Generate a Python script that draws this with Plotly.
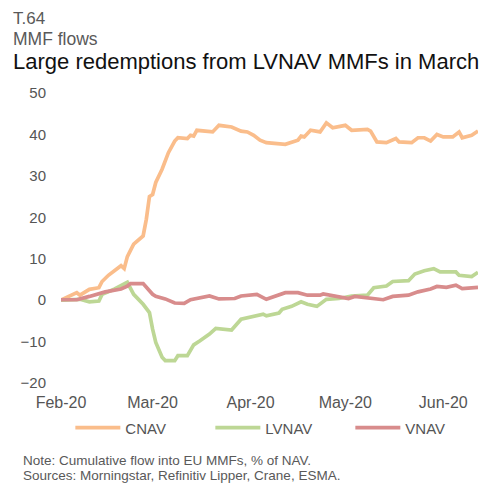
import plotly.graph_objects as go
import pandas as pd

# ---- data (cumulative flow, % of NAV) ----
cnav_days = [0, 5, 6, 9, 12, 13, 15, 17, 19, 20, 21, 22, 23, 26, 27, 28, 29, 30, 32, 34, 36, 37,
             40, 41, 42, 43, 47, 48, 50, 54, 57, 59, 61, 63, 65, 70, 71, 75, 76, 77, 79, 82, 84,
             86, 90, 92, 97, 98, 100, 103, 106, 107, 111, 113, 115, 117, 119, 121, 124, 126, 127, 130, 132]
cnav_vals = [0.0, 1.8, 1.2, 2.6, 3.0, 4.5, 6.0, 7.1, 8.3, 7.6, 10.5, 12.0, 13.5, 15.5, 19.5, 25.0,
             25.5, 28.4, 31.6, 35.6, 38.4, 39.2, 39.0, 39.8, 39.6, 41.0, 40.8, 40.6, 42.2, 41.8,
             40.8, 40.6, 39.8, 38.6, 38.0, 37.8, 37.6, 38.6, 39.6, 39.4, 41.0, 40.6, 42.8, 41.6,
             42.2, 41.0, 41.2, 40.8, 38.2, 38.0, 39.0, 38.2, 38.0, 39.2, 39.2, 38.4, 40.0, 39.4,
             39.4, 40.6, 39.2, 39.8, 40.8]

lvnav_days = [0, 6, 9, 12, 13, 17, 21, 22, 23, 26, 28, 29, 30, 32, 33, 36, 37, 40, 42, 44, 47, 49,
              54, 57, 61, 64, 65, 69, 70, 73, 76, 78, 81, 84, 88, 92, 97, 99, 103, 105, 110, 112,
              115, 118, 120, 125, 126, 130, 132]
lvnav_vals = [0.0, 0.2, -0.4, -0.2, 1.4, 2.7, 4.3, 3.0, 1.4, -1.0, -3.0, -7.0, -10.2, -13.8, -14.6,
              -14.6, -13.4, -13.4, -10.8, -9.8, -8.2, -6.8, -7.2, -4.6, -3.9, -3.4, -3.8, -3.1,
              -2.2, -1.5, -0.4, -1.0, -1.5, 0.2, 0.4, 1.0, 1.2, 3.0, 3.4, 4.5, 4.7, 6.3, 7.1, 7.6,
              6.8, 6.8, 6.0, 5.7, 6.7]

vnav_days = [0, 5, 9, 14, 19, 21, 22, 26, 29, 30, 33, 36, 39, 41, 47, 50, 55, 57, 62, 65, 71, 75,
             78, 82, 83, 87, 91, 93, 98, 102, 105, 110, 113, 117, 119, 122, 125, 127, 132]
vnav_vals = [0.1, 0.1, 0.9, 2.0, 2.7, 3.4, 4.0, 4.0, 1.4, 0.9, 0.3, -0.7, -0.8, 0.1, 1.0, 0.3, 0.4,
             1.0, 1.4, 0.2, 1.8, 1.8, 1.2, 1.2, 1.5, 0.9, 0.4, 0.9, 0.4, 0.1, 0.9, 1.2, 2.0, 2.7,
             3.3, 3.1, 3.6, 2.8, 3.1]

start_date = "2020-02-01"
tick_dates = ["2020-02-01", "2020-03-01", "2020-04-01", "2020-05-01", "2020-06-01"]
tick_labels = ["Feb-20", "Mar-20", "Apr-20", "May-20", "Jun-20"]
y_ticks = [-20, -10, 0, 10, 20, 30, 40, 50]

series = [
    ("CNAV", cnav_days, cnav_vals, "#FABD8B"),
    ("LVNAV", lvnav_days, lvnav_vals, "#BDD795"),
    ("VNAV", vnav_days, vnav_vals, "#D88C8C"),
]

base = pd.Timestamp(start_date)
fig = go.Figure()
for name, days, vals, col in series:
    dates = [base + pd.Timedelta(days=d) for d in days]
    fig.add_trace(go.Scatter(x=dates, y=vals, name=name, mode="lines",
                             line=dict(color=col, width=3.7)))

FONT = "Liberation Sans, Arial, sans-serif"
# page body has an 8px margin, so the figure is sized/offset to compensate
fig.update_layout(
    width=485, height=475,
    margin=dict(l=53, r=15, t=85, b=100, autoexpand=False),
    paper_bgcolor="white", plot_bgcolor="white",
    font=dict(family=FONT, size=15, color="#555555"),
    showlegend=True,
    legend=dict(orientation="h", x=0.526, xanchor="center", y=-0.155, yanchor="middle",
                font=dict(size=15, color="#555555"), entrywidth=80, itemwidth=45,
                bgcolor="rgba(0,0,0,0)"),
    xaxis=dict(range=[base, base + pd.Timedelta(days=132)], tickvals=tick_dates,
               ticktext=tick_labels, showgrid=False, zeroline=False, showline=False,
               ticks="", ticklabelstandoff=8, automargin=False,
               tickfont=dict(size=16, color="#555555")),
    yaxis=dict(range=[-20, 50], tickvals=y_ticks, showgrid=False, zeroline=False,
               showline=False, ticks="", ticklabelstandoff=14, automargin=False,
               tickfont=dict(size=15, color="#555555")),
)

annots = [
    ("T.64", 1.256, 17, "#595959", 13),
    ("MMF flows", 1.185, 17.5, "#595959", 13),
    ("Large redemptions from LVNAV MMFs in March", 1.108, 22, "#111111", 13),
    ("Note: Cumulative flow into EU MMFs, % of NAV.", -0.266, 13.5, "#595959", 23),
    ("Sources: Morningstar, Refinitiv Lipper, Crane, ESMA.", -0.319, 13.5, "#595959", 23),
]
for txt, yy, sz, col, xpx in annots:
    fig.add_annotation(text=txt, xref="paper", yref="paper",
                       x=(xpx - 2 - 61) / 417, y=yy, xanchor="left", yanchor="middle",
                       showarrow=False,
                       font=dict(size=sz, color=col, family=FONT))

fig.write_html("out.html")
